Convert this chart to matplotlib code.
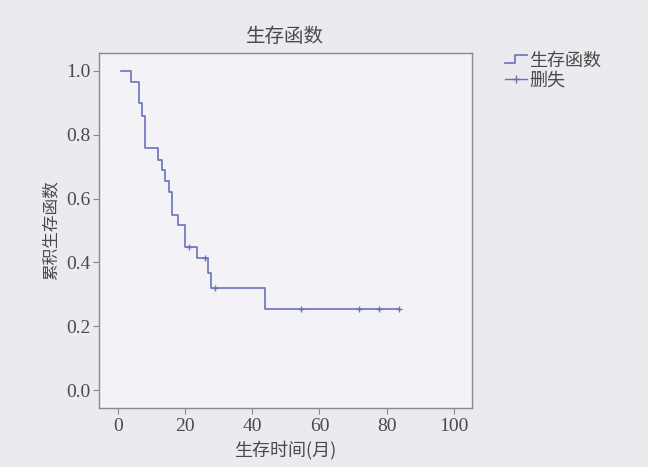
import matplotlib
matplotlib.use("Agg")
import matplotlib.pyplot as plt
from matplotlib.legend_handler import HandlerBase
from matplotlib.lines import Line2D
import numpy as np

plt.rcParams['font.family'] = ['Liberation Serif', 'Noto Sans CJK SC', 'DejaVu Sans']

# Kaplan-Meier curve
start_time = 1.0
drop_times = [3.8, 6.2, 7.1, 8.0, 11.9, 13.1, 14.1, 15.1, 16.2, 17.8, 20.0, 23.6, 26.7, 27.8, 43.7]
surv_after = [0.965, 0.899, 0.859, 0.758, 0.721, 0.690, 0.656, 0.621, 0.548, 0.517,
              0.449, 0.413, 0.366, 0.319, 0.254]
censor_times = [21.3, 26.0, 29.0, 54.6, 71.7, 77.7, 83.8]
censor_surv = [0.449, 0.413, 0.319, 0.254, 0.254, 0.254, 0.254]

x_ticks = [0, 20, 40, 60, 80, 100]
y_ticks = [0.0, 0.2, 0.4, 0.6, 0.8, 1.0]

title = "生存函数"
xlabel = "生存时间(月)"
ylabel = "累积生存函数"
legend_labels = ["生存函数", "删失"]

line_color = "#6b72b8"
text_color = "#4a4a4a"
spine_color = "#8a8a8a"
cjk = ['Noto Sans CJK SC', 'DejaVu Sans']

fig = plt.figure(figsize=(6.48, 4.67), dpi=100, facecolor="#ebebef")
ax = fig.add_axes([0.1528, 0.1263, 0.5752, 0.7602], facecolor="#f3f3f7")

t = [start_time] + drop_times + [max(censor_times)]
s = [1.0] + surv_after + [surv_after[-1]]
ax.step(t, s, where="post", color=line_color, lw=1.2)
ax.plot(censor_times, censor_surv, linestyle="none", marker="+", color=line_color,
        markersize=5, markeredgewidth=1.0)

ax.set_xlim(-5.6, 105.3)
ax.set_ylim(-0.056, 1.056)
ax.set_xticks(x_ticks)
ax.set_yticks(y_ticks)
ax.set_xticklabels([str(v) for v in x_ticks])
ax.set_yticklabels([f"{v:.1f}" for v in y_ticks])
ax.tick_params(direction="out", length=4, width=0.8, colors=spine_color,
               labelcolor=text_color, labelsize=14)
ax.tick_params(axis="y", pad=2)
for sp in ax.spines.values():
    sp.set_color(spine_color)
    sp.set_linewidth(1.0)

ax.set_title(title, fontsize=14, color=text_color, pad=8, family=cjk)
ax.set_xlabel(xlabel, fontsize=13, color=text_color, labelpad=4, family=cjk)
ax.set_ylabel(ylabel, fontsize=12, color=text_color, labelpad=5, family=cjk)


class StepHandler(HandlerBase):
    def create_artists(self, legend, orig_handle, xdescent, ydescent,
                       width, height, fontsize, trans):
        x0 = -xdescent
        y0 = -ydescent
        xs = [x0, x0 + width * 0.45, x0 + width * 0.45, x0 + width]
        ys = [y0 + height * 0.2, y0 + height * 0.2, y0 + height * 0.8, y0 + height * 0.8]
        ln = Line2D(xs, ys, color=line_color, lw=1.2, transform=trans)
        return [ln]


h1 = Line2D([], [], color=line_color)
h2 = Line2D([], [], color=line_color, marker="+", markersize=6, lw=1.0)
leg = fig.legend([h1, h2], legend_labels, handler_map={h1: StepHandler()},
                 loc="upper left", bbox_to_anchor=(0.755, 0.925), frameon=False,
                 handlelength=1.2, handletextpad=0.1, labelspacing=0.1,
                 prop={'family': cjk, 'size': 13})
for txt in leg.get_texts():
    txt.set_color(text_color)

fig.savefig("out.png", dpi=100, facecolor=fig.get_facecolor())
